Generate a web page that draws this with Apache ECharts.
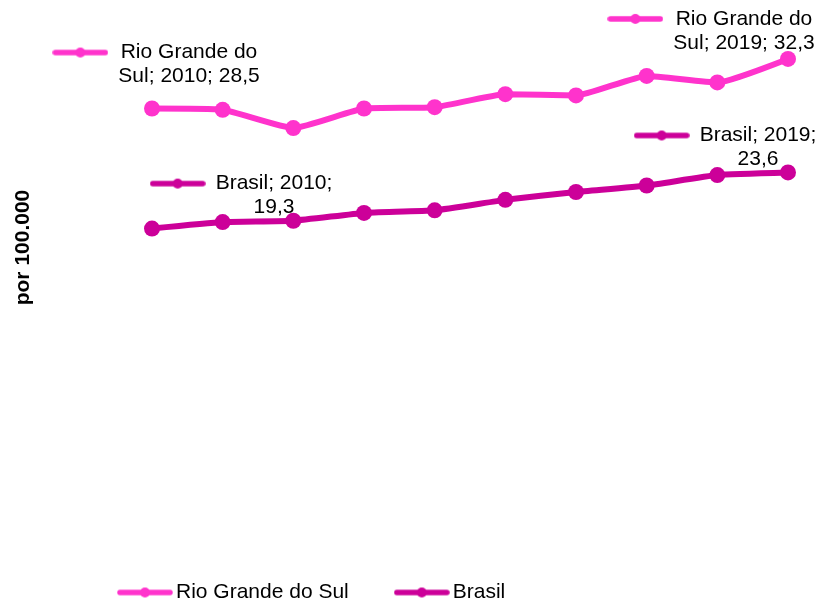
<!DOCTYPE html>
<html>
<head>
<meta charset="utf-8">
<script src="https://cdn.jsdelivr.net/npm/echarts@6/dist/echarts.min.js"></script>
<style>
  html, body { margin: 0; padding: 0; background: #fff; }
  #chart { width: 823px; height: 601px; }
</style>
</head>
<body>
<div id="chart"></div>
<script>
// Taxa por 100.000 habitantes, 2010–2019
const years = ['2010', '2011', '2012', '2013', '2014', '2015', '2016', '2017', '2018', '2019'];
const rgsValues = [28.5, 28.4, 27.0, 28.5, 28.6, 29.6, 29.5, 31.0, 30.5, 32.3];
const brasilValues = [19.3, 19.8, 19.9, 20.5, 20.7, 21.5, 22.1, 22.6, 23.4, 23.6];
const seriesNames = ['Rio Grande do Sul', 'Brasil'];
const seriesColors = ['#ff33cc', '#cc0099'];
const yTitle = 'por 100.000';

const FONT = "'Liberation Sans', Arial, sans-serif";
const KEY_W = 56, KEY_H = 14, KEY_GAP = 10;

// Small line-with-dot key, like the legend icon, used in the legend and the data callouts
function keyImage(color) {
  const c = document.createElement('canvas');
  c.width = KEY_W; c.height = KEY_H;
  const g = c.getContext('2d');
  g.strokeStyle = color; g.lineWidth = 5.5; g.lineCap = 'round';
  g.beginPath(); g.moveTo(3, KEY_H / 2); g.lineTo(KEY_W - 3, KEY_H / 2); g.stroke();
  g.fillStyle = color;
  g.beginPath(); g.arc(KEY_W / 2, KEY_H / 2, 5, 0, Math.PI * 2); g.fill();
  return c;
}
const keyImages = seriesColors.map(keyImage);

// Greedy word wrap
function wrap(text, maxChars) {
  const words = text.split(' ');
  const lines = [];
  let cur = '';
  words.forEach(w => {
    const next = cur ? cur + ' ' + w : w;
    if (next.length > maxChars && cur) { lines.push(cur); cur = w; }
    else cur = next;
  });
  if (cur) lines.push(cur);
  return lines;
}

function fmt(v) { return v.toFixed(1).replace('.', ','); }

function callout(si, year, value, offset) {
  const lines = wrap(`${seriesNames[si]}; ${year}; ${fmt(value)}`, 15);
  const text = lines.map((l, i) => (i === 0 ? '{key|}{gap|}' : '{pad|}') + '{t|' + l + '}').join('\n');
  return {
    show: true,
    position: 'inside',
    align: 'center',
    verticalAlign: 'middle',
    offset: offset,
    formatter: text,
    rich: {
      key: { align: 'left', width: KEY_W, height: KEY_H,
             backgroundColor: { image: keyImages[si] } },
      gap: { align: 'left', width: KEY_GAP },
      pad: { align: 'left', width: KEY_W + KEY_GAP },
      t: { align: 'center', fontSize: 21, fontFamily: FONT, color: '#000', lineHeight: 24 }
    }
  };
}

const calloutOffsets = [
  [[4, -44], [-77, -28]],
  [[89, -33], [-63, -25]]
];

function buildData(values, si) {
  const last = values.length - 1;
  return values.map((v, i) => {
    if (i === 0) return { value: v, label: callout(si, years[i], v, calloutOffsets[si][0]) };
    if (i === last) return { value: v, label: callout(si, years[i], v, calloutOffsets[si][1]) };
    return v;
  });
}

const chart = echarts.init(document.getElementById('chart'));
chart.setOption({
  animation: false,
  backgroundColor: '#fff',
  textStyle: { fontFamily: FONT },
  grid: { left: 152, right: 35, top: 23.7, bottom: 601 - 480.4, containLabel: false, outerBoundsMode: 'none' },
  xAxis: {
    type: 'category',
    data: years,
    boundaryGap: false,
    show: false
  },
  yAxis: {
    type: 'value',
    min: 0,
    max: 35,
    show: false
  },
  graphic: [{
    type: 'text',
    x: 23,
    y: 247.5,
    rotation: Math.PI / 2,
    style: {
      text: yTitle,
      align: 'center',
      verticalAlign: 'middle',
      fontSize: 21,
      fontWeight: 'bold',
      fontFamily: FONT,
      fill: '#000'
    }
  }],
  legend: {
    left: 117,
    top: 582,
    padding: 0,
    itemWidth: 56,
    itemHeight: 14,
    itemGap: 45,
    textStyle: { fontSize: 21, color: '#000', fontFamily: FONT, padding: [0, 0, 0, -2] },
    data: seriesNames.map((n, si) => ({ name: n, icon: 'image://' + keyImages[si].toDataURL() }))
  },
  series: [rgsValues, brasilValues].map((vals, si) => ({
    name: seriesNames[si],
    type: 'line',
    data: buildData(vals, si),
    symbol: 'circle',
    symbolSize: 16,
    smooth: 0.15,
    color: seriesColors[si],
    lineStyle: { width: 6, color: seriesColors[si] },
    itemStyle: { color: seriesColors[si] },
    label: { show: false },
    emphasis: { disabled: true }
  }))
});
</script>
</body>
</html>
